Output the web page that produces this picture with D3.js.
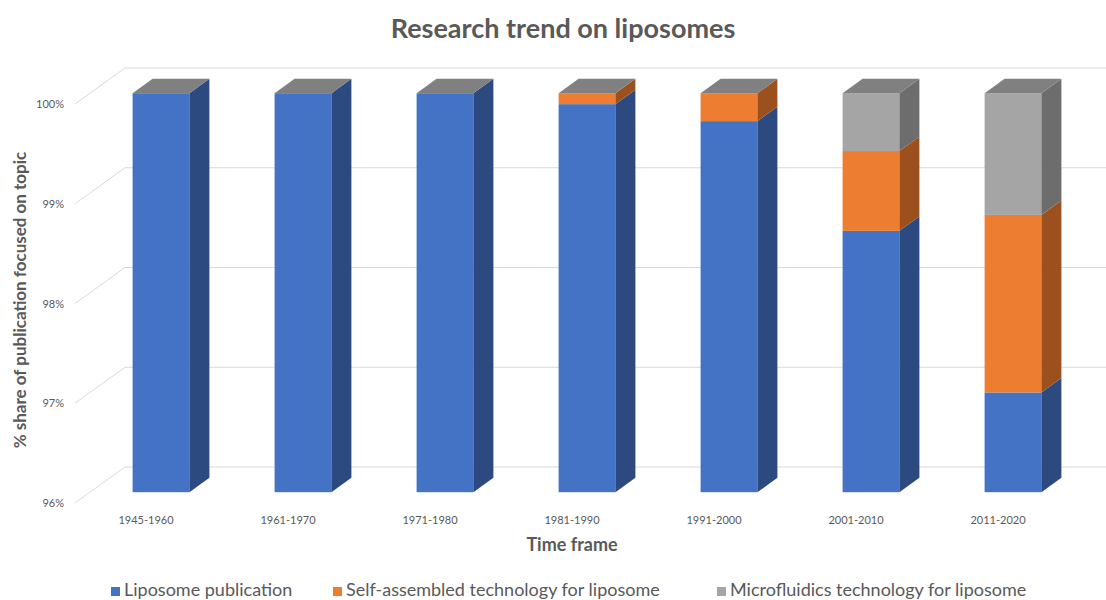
<!DOCTYPE html>
<html>
<head>
<meta charset="utf-8">
<script src="https://cdn.jsdelivr.net/npm/d3@7"></script>
<style>
  html, body { margin: 0; padding: 0; background: #ffffff; }
  svg { display: block; }
  text { font-family: Lato, "Open Sans", "Liberation Sans", sans-serif; }
</style>
</head>
<body>
<svg id="chart" width="1106" height="600"></svg>
<script>
// Time frames on the x axis
const categories = ["1945-1960", "1961-1970", "1971-1980", "1981-1990", "1991-2000", "2001-2010", "2011-2020"];

// Share of publications (%) per time frame, one array per topic
const liposomePublication = [100, 100, 100, 99.89, 99.72, 98.62, 97.00];
const selfAssembled       = [0, 0, 0, 0.11, 0.28, 0.80, 1.78];
const microfluidics       = [0, 0, 0, 0, 0, 0.58, 1.22];

const seriesNames = ["Liposome publication", "Self-assembled technology for liposome", "Microfluidics technology for liposome"];
const yTicks = [96, 97, 98, 99, 100];

const colors = {
  front: ["#4472c4", "#ed7d31", "#a5a5a5"],
  side:  ["#2c4a7f", "#9c501d", "#6d6d6d"],
  top:   ["#3a62a8", "#c96a29", "#808080"]
};

const svg = d3.select("#chart");
const W = 1106;

// Scales in the front plane of the floor
const x = d3.scaleBand().domain(categories).range([75, 1069]).paddingInner(0.6).paddingOuter(0.3);
const y = d3.scaleLinear().domain([96, 100]).range([503, 104]);
const yMin = y.domain()[0];

// Oblique depth vector of the plot box, and the depth slice the bars occupy
const depth = { dx: 50, dy: -36 };
const zFront = 0.3, zBack = 0.7;
const off = z => [depth.dx * z, depth.dy * z];

// Gridlines: a diagonal on the side wall followed by the back-wall line
const grid = svg.append("g");
yTicks.forEach(t => {
  const y0 = y(t);
  grid.append("path")
    .attr("d", `M${x.range()[0]},${y0} L${x.range()[0] + depth.dx},${y0 + depth.dy} L${W},${y0 + depth.dy}`)
    .attr("fill", "none")
    .attr("stroke", "#d9d9d9")
    .attr("stroke-width", 1);
});

// Y tick labels
svg.append("g").selectAll("text")
  .data(yTicks)
  .join("text")
  .attr("x", 64)
  .attr("y", d => y(d) + 4)
  .attr("text-anchor", "end")
  .attr("font-size", 11)
  .attr("fill", "#595959")
  .text(d => d + "%");

// X category labels
svg.append("g").selectAll("text")
  .data(categories)
  .join("text")
  .attr("x", d => x(d) + x.bandwidth() / 2)
  .attr("y", 524)
  .attr("text-anchor", "middle")
  .attr("font-size", 11)
  .attr("fill", "#595959")
  .text(d => d);

// Stack the three topics
const rows = categories.map((c, i) => ({
  cat: c,
  s0: liposomePublication[i],
  s1: selfAssembled[i],
  s2: microfluidics[i]
}));
const stacked = d3.stack().keys(["s0", "s1", "s2"])(rows);

const [fx, fy] = off(zFront);
const [bx, by] = off(zBack);
const sx = bx - fx, sy = by - fy;

const bars = svg.append("g");
categories.forEach((c, i) => {
  const left = x(c) + fx;
  const right = left + x.bandwidth();
  stacked.forEach((layer, k) => {
    // the axis starts at 96%, so segments are clipped to the floor
    const v0 = Math.max(layer[i][0], yMin);
    const v1 = layer[i][1];
    const yb = y(v0) + fy, yt = y(v1) + fy;
    if (v1 > v0) {
      // front face
      bars.append("rect")
        .attr("x", left).attr("y", yt)
        .attr("width", x.bandwidth()).attr("height", yb - yt)
        .attr("fill", colors.front[k]);
      // right side face
      bars.append("path")
        .attr("d", `M${right},${yb} L${right + sx},${yb + sy} L${right + sx},${yt + sy} L${right},${yt} Z`)
        .attr("fill", colors.side[k]);
    }
  });
  // top face of the stack, in the colour of the top series
  const topK = stacked.length - 1;
  const yt = y(stacked[topK][i][1]) + fy;
  bars.append("path")
    .attr("d", `M${left},${yt} L${right},${yt} L${right + sx},${yt + sy} L${left + sx},${yt + sy} Z`)
    .attr("fill", colors.top[topK]);
});

// Title
svg.append("text")
  .attr("x", 563).attr("y", 38)
  .attr("text-anchor", "middle")
  .attr("font-size", 27).attr("font-weight", "bold")
  .attr("fill", "#595959")
  .text("Research trend on liposomes");

// Axis titles
svg.append("text")
  .attr("x", 572).attr("y", 551)
  .attr("text-anchor", "middle")
  .attr("font-size", 18).attr("font-weight", "bold")
  .attr("fill", "#595959")
  .text("Time frame");

svg.append("text")
  .attr("transform", "translate(26,300) rotate(-90)")
  .attr("text-anchor", "middle")
  .attr("font-size", 17).attr("font-weight", "bold")
  .attr("fill", "#595959")
  .text("% share of publication focused on topic");

// Legend
const legendX = [111, 333, 717];
const legend = svg.append("g");
seriesNames.forEach((name, k) => {
  legend.append("rect")
    .attr("x", legendX[k]).attr("y", 587)
    .attr("width", 9).attr("height", 9)
    .attr("fill", colors.front[k]);
  legend.append("text")
    .attr("x", legendX[k] + 13).attr("y", 596)
    .attr("font-size", 18)
    .attr("fill", "#595959")
    .text(name);
});
</script>
</body>
</html>
